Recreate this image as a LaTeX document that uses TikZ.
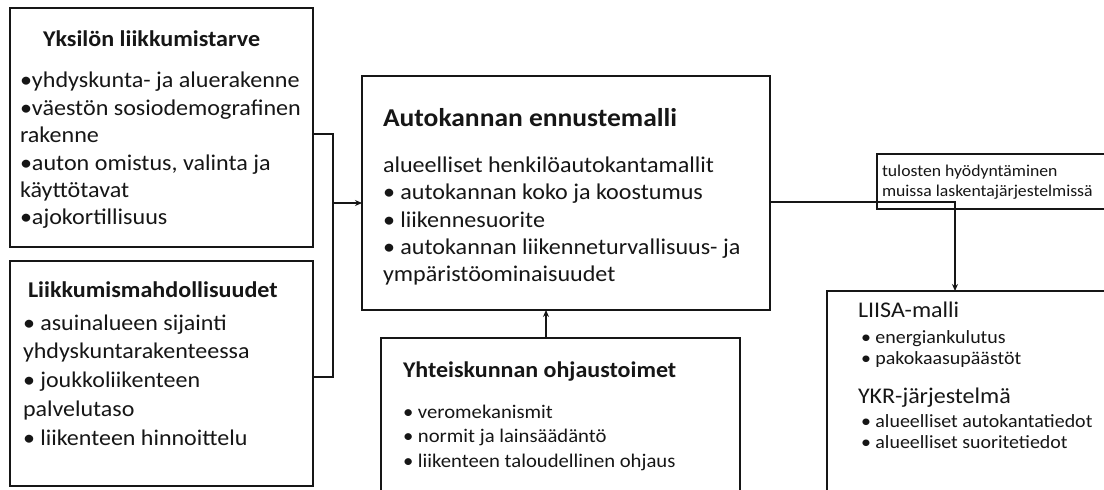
\documentclass[tikz,border=0pt]{standalone}
\usepackage{fontspec}
\setmainfont[FakeStretch=1.07]{Carlito}
\usetikzlibrary{arrows.meta}
\definecolor{ink}{HTML}{161616}
\begin{document}
\begin{tikzpicture}[x=1bp,y=-1bp,
 box/.style={draw=ink, line width=1.5bp, anchor=north west, inner sep=0, outer sep=0},
 txt/.style={anchor=base west, inner sep=0, outer sep=0, align=left, text=ink},
 conn/.style={draw=ink, line width=1.3bp},
 arr/.style={conn, -{Stealth[length=7bp,width=6bp]}}]
\useasboundingbox (0,0) rectangle (1104,490);
\clip (0,0) rectangle (1104,490);
\fill[white] (0,0) rectangle (1104,490);

% boxes
\node[box, minimum width=303bp, minimum height=239bp] (b1) at (10,8) {};
\node[box, minimum width=303bp, minimum height=225bp] (b2) at (10,261) {};
\node[box, minimum width=408bp, minimum height=234bp] (b3) at (362,76) {};
\node[box, minimum width=359bp, minimum height=200bp] (b4) at (381,338) {};
\node[box, minimum width=240bp, minimum height=55bp] (b5) at (877,154) {};
\node[box, minimum width=290bp, minimum height=220bp] (b6) at (827,291) {};

% texts (base anchor = baseline of last line)
\node[txt, font=\fontsize{22.6}{27.6}\selectfont\bfseries] (t1) at (43,47) {Yksilön liikkumistarve};
\node[txt, font=\fontsize{22.6}{27.6}\selectfont] (i1) at (20,225) {•yhdyskunta- ja aluerakenne\\•väestön sosiodemografinen\\rakenne\\•auton omistus, valinta ja\\käyttötavat\\•ajokortillisuus};

\node[txt, font=\fontsize{22.6}{28.8}\selectfont\bfseries] (t2) at (28,298) {Liikkumismahdollisuudet};
\node[txt, font=\fontsize{22.5}{28.8}\selectfont] (i2) at (23,445) {• asuinalueen sijainti\\yhdyskuntarakenteessa\\• joukkoliikenteen\\palvelutaso\\• liikenteen hinnoittelu};

\node[txt, font=\fontsize{25.8}{28}\selectfont\bfseries] (t3) at (383,127) {Autokannan ennustemalli};
\node[txt, font=\fontsize{22.6}{27.5}\selectfont] (i3) at (383,282) {alueelliset henkilöautokantamallit\\• autokannan koko ja koostumus\\• liikennesuorite\\• autokannan liikenneturvallisuus- ja\\ympäristöominaisuudet};

\node[txt, font=\fontsize{22.5}{25}\selectfont\bfseries] (t4) at (403,378) {Yhteiskunnan ohjaustoimet};
\node[txt, font=\fontsize{19.4}{24.5}\selectfont] (i4) at (403,467) {• veromekanismit\\• normit ja lainsäädäntö\\• liikenteen taloudellinen ohjaus};

\node[txt, font=\fontsize{16.6}{21}\selectfont] (t5) at (882,197) {tulosten hyödyntäminen\\muissa laskentajärjestelmissä};

\node[txt, font=\fontsize{22.5}{24}\selectfont] (t6) at (858,318) {LIISA-malli};
\node[txt, font=\fontsize{18.7}{22}\selectfont] (i6) at (861,365) {• energiankulutus\\• pakokaasupäästöt};
\node[txt, font=\fontsize{22.5}{24}\selectfont] (t7) at (858,403) {YKR-järjestelmä};
\node[txt, font=\fontsize{18.7}{21.5}\selectfont] (i7) at (861,448.5) {• alueelliset autokantatiedot\\• alueelliset suoritetiedot};

% connectors
\coordinate (j1) at (333,134);
\coordinate (j2) at (333,377);
\coordinate (j3) at (333,203);
\draw[conn] (b1.east |- j1) -- (j1) -- (j2) -- (b2.east |- j2);
\draw[arr] (j3) -- (b3.west |- j3);
\coordinate (k1) at (955,202);
\draw[arr] (b3.east |- k1) -- (k1) -- (b6.north -| k1);
\coordinate (m1) at (546,338);
\draw[arr] (m1) -- (b3.south -| m1);
\end{tikzpicture}
\end{document}
